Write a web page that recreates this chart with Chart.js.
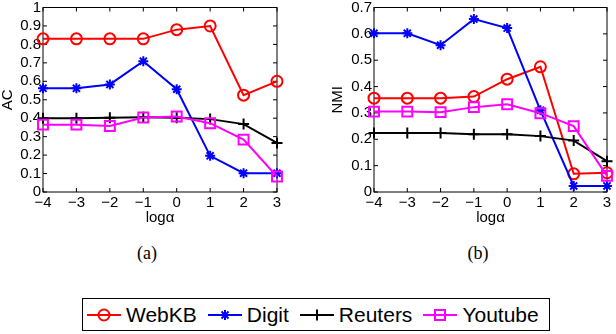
<!DOCTYPE html>
<html>
<head>
<meta charset="utf-8">
<script src="https://cdn.jsdelivr.net/npm/chart.js@4/dist/chart.umd.min.js"></script>
<style>
  body { margin: 0; width: 616px; height: 334px; background: #fff; position: relative; overflow: hidden; font-family: "Liberation Sans", Arial, sans-serif; }
  canvas { position: absolute; top: -2px; }
  #chartA { left: 0; }
  #chartB { left: 330px; }
  .sub { position: absolute; top: 242px; width: 40px; text-align: center; font-family: "Liberation Serif", serif; font-size: 18px; line-height: 22px; }
  #legend { position: absolute; left: 82px; top: 298px; width: 468px; height: 33px; border: 1px solid #000; box-sizing: border-box; display: flex; align-items: center; padding-left: 4px; font-size: 21px; }
  .item { display: flex; align-items: center; margin-right: 11px; }
  .item svg { margin-right: 5px; }
</style>
</head>
<body>
<canvas id="chartA" width="300" height="232"></canvas>
<canvas id="chartB" width="286" height="232"></canvas>
<div class="sub" style="left:127px">(a)</div>
<div class="sub" style="left:458px">(b)</div>
<div id="legend"></div>

<script>
// data //
const xLabels = ['\u22124', '\u22123', '\u22122', '\u22121', '0', '1', '2', '3'];
const seriesNames = ['WebKB', 'Digit', 'Reuters', 'Youtube'];

// (a) AC
const acWebKB   = [0.83, 0.83, 0.83, 0.83, 0.88, 0.90, 0.525, 0.60];
const acDigit   = [0.562, 0.562, 0.583, 0.709, 0.557, 0.196, 0.102, 0.102];
const acReuters = [0.40, 0.40, 0.403, 0.405, 0.403, 0.395, 0.368, 0.266];
const acYoutube = [0.365, 0.365, 0.358, 0.404, 0.409, 0.373, 0.284, 0.084];

// (b) NMI
const nmiWebKB   = [0.356, 0.356, 0.356, 0.362, 0.428, 0.475, 0.069, 0.073];
const nmiDigit   = [0.602, 0.602, 0.557, 0.656, 0.622, 0.31, 0.023, 0.023];
const nmiReuters = [0.224, 0.224, 0.224, 0.219, 0.219, 0.212, 0.195, 0.117];
const nmiYoutube = [0.305, 0.305, 0.303, 0.322, 0.333, 0.299, 0.25, 0.061];

// styles //
const styles = [
  { color: '#ff0000', pointStyle: 'circle', radius: 5.5, order: 4 },
  { color: '#0000ff', pointStyle: 'star', radius: 5, order: 3 },
  { color: '#000000', pointStyle: 'cross', radius: 5.5, order: 2 },
  { color: '#ff00ff', pointStyle: 'rect', radius: 7, order: 1 }
];

// matlab style box with ticks pointing inward
const boxFrame = {
  id: 'boxFrame',
  beforeDatasetsDraw(chart) {
    const { ctx, chartArea: a, scales } = chart;
    ctx.save();
    ctx.strokeStyle = '#000';
    ctx.lineWidth = 1;
    ctx.strokeRect(a.left, a.top, a.right - a.left, a.bottom - a.top);
    ctx.beginPath();
    scales.x.ticks.forEach((t, i) => {
      const px = scales.x.getPixelForTick(i);
      ctx.moveTo(px, a.bottom); ctx.lineTo(px, a.bottom - 4);
      ctx.moveTo(px, a.top); ctx.lineTo(px, a.top + 4);
    });
    scales.y.ticks.forEach((t, i) => {
      const py = scales.y.getPixelForTick(i);
      ctx.moveTo(a.left, py); ctx.lineTo(a.left + 4, py);
      ctx.moveTo(a.right, py); ctx.lineTo(a.right - 4, py);
    });
    ctx.stroke();
    ctx.restore();
  }
};

function makeDatasets(values) {
  return values.map((data, i) => ({
    label: seriesNames[i],
    data: data,
    borderColor: styles[i].color,
    borderWidth: 2,
    pointStyle: styles[i].pointStyle,
    pointRadius: styles[i].radius,
    pointBorderColor: styles[i].color,
    pointBackgroundColor: 'rgba(0,0,0,0)',
    pointBorderWidth: 2,
    tension: 0,
    clip: false,
    order: styles[i].order
  }));
}

function makeChart(id, values, yMax, yTitle, yWidth, padRight) {
  const tickFont = { family: '"Liberation Sans", Arial, sans-serif', size: 15, lineHeight: 1 };
  return new Chart(document.getElementById(id), {
    type: 'line',
    data: { labels: xLabels, datasets: makeDatasets(values) },
    options: {
      responsive: false,
      animation: false,
      devicePixelRatio: 1,
      layout: { padding: { top: 6, right: padRight, bottom: 0, left: 0 } },
      plugins: { legend: { display: false }, tooltip: { enabled: false } },
      scales: {
        x: {
          grid: { display: false, drawTicks: false },
          border: { display: false },
          ticks: { color: '#000', font: tickFont, padding: 3, autoSkip: false, maxRotation: 0 },
          title: { display: true, text: 'log\u03b1', color: '#000', font: tickFont, padding: { top: 0, bottom: 5 } },
          afterFit: (scale) => { scale.height = 38; }
        },
        y: {
          min: 0,
          max: yMax,
          grid: { display: false, drawTicks: false },
          border: { display: false },
          ticks: {
            stepSize: 0.1, color: '#000', font: tickFont, padding: 2,
            callback: (v) => String(Number(v.toFixed(1)))
          },
          title: { display: true, text: yTitle, color: '#000', font: tickFont, padding: { top: 0, bottom: 0 } },
          afterFit: (scale) => { scale.width = yWidth; }
        }
      }
    },
    plugins: [boxFrame]
  });
}

makeChart('chartA', [acWebKB, acDigit, acReuters, acYoutube], 1, 'AC', 43, 23);
makeChart('chartB', [nmiWebKB, nmiDigit, nmiReuters, nmiYoutube], 0.7, 'NMI', 44, 7);

// legend //
function legendIcon(i) {
  const c = styles[i].color;
  let mark = '';
  if (styles[i].pointStyle === 'circle') {
    mark = `<circle cx="17" cy="8" r="5.5" fill="none" stroke="${c}" stroke-width="2"/>`;
  } else if (styles[i].pointStyle === 'star') {
    mark = `<path d="M12 8H22M17 3V13M13.5 4.5L20.5 11.5M20.5 4.5L13.5 11.5" stroke="${c}" stroke-width="2"/>`;
  } else if (styles[i].pointStyle === 'cross') {
    mark = `<path d="M17 2.5V13.5" stroke="${c}" stroke-width="2"/>`;
  } else {
    mark = `<rect x="12" y="3" width="10" height="10" fill="none" stroke="${c}" stroke-width="2"/>`;
  }
  return `<svg width="34" height="16" viewBox="0 0 34 16"><path d="M0 8H34" stroke="${c}" stroke-width="2"/>${mark}</svg>`;
}

document.getElementById('legend').innerHTML = seriesNames
  .map((name, i) => `<span class="item">${legendIcon(i)}<span>${name}</span></span>`)
  .join('');
</script>
</body>
</html>
